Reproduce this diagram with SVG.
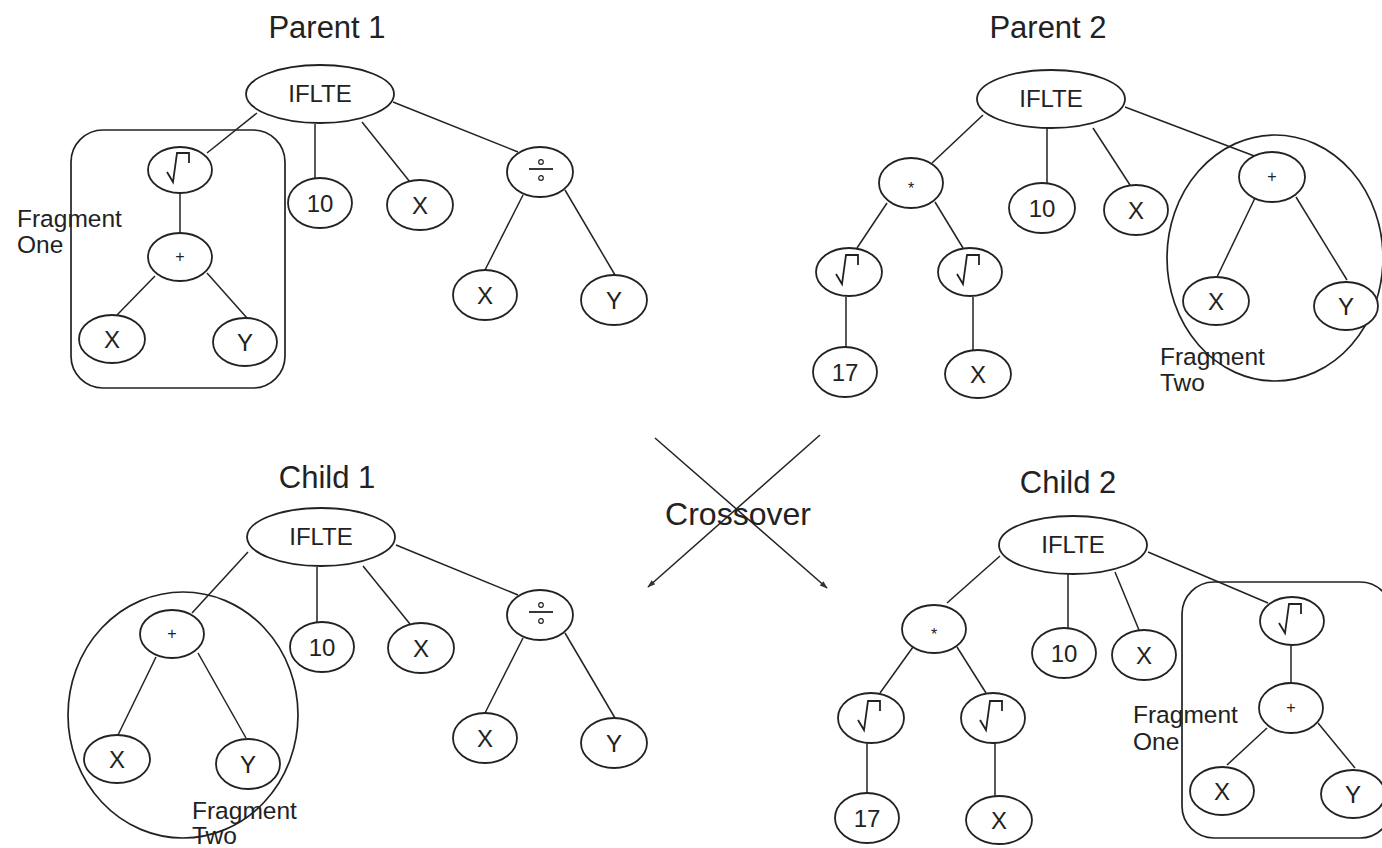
<svg xmlns="http://www.w3.org/2000/svg" xmlns:xlink="http://www.w3.org/1999/xlink" width="1382" height="848" viewBox="0 0 1382 848">
<style>
.n{fill:#fff;stroke:#222;stroke-width:1.8}
.f{fill:none;stroke:#222;stroke-width:1.7}
.e{stroke:#222;stroke-width:1.5;fill:none}
.t{font-family:"Liberation Sans",Arial,sans-serif;font-size:24px;fill:#222;text-anchor:middle}
.s{font-family:"Liberation Sans",Arial,sans-serif;font-size:16px;fill:#222;text-anchor:middle}
.h{font-family:"Liberation Sans",Arial,sans-serif;font-size:31px;fill:#222;text-anchor:middle}
.l{font-family:"Liberation Sans",Arial,sans-serif;font-size:24.5px;fill:#222}
.sym{fill:none;stroke:#222;stroke-width:1.8}
</style>
<defs>
<g id="sqrt"><polyline class="sym" points="-13,2 -7,12 -3,-17 9,-17 9,-7"/></g>
<g id="div"><line class="sym" x1="-11" y1="-3" x2="13" y2="-3"/><circle cx="1" cy="-10" r="2.3" fill="none" stroke="#222" stroke-width="1.2"/><circle cx="1" cy="6" r="2.3" fill="none" stroke="#222" stroke-width="1.2"/></g>
<marker id="arr" viewBox="0 0 10 10" refX="9" refY="5" markerWidth="8" markerHeight="8" orient="auto" markerUnits="userSpaceOnUse"><path d="M0,1.5 L10,5 L0,8.5 Z" fill="#333"/></marker>
</defs>

<!-- titles -->
<text class="h" x="327" y="38">Parent 1</text>
<text class="h" x="1048" y="38">Parent 2</text>
<text class="h" x="327" y="488">Child 1</text>
<text class="h" x="1068" y="493">Child 2</text>

<!-- fragment outlines -->
<g id="p1-fragment">
<rect class="f" x="71" y="130" width="214" height="258" rx="32"/>
<text class="l" x="17" y="227">Fragment</text><text class="l" x="17" y="253">One</text>
</g>
<g id="p2-fragment">
<ellipse class="f" cx="1275" cy="258" rx="108" ry="123"/>
<text class="l" x="1160" y="365">Fragment</text><text class="l" x="1160" y="391">Two</text>
</g>
<g id="c1-fragment">
<ellipse class="f" cx="183" cy="715" rx="115" ry="123"/>
<text class="l" x="192" y="819">Fragment</text><text class="l" x="192" y="844">Two</text>
</g>
<g id="c2-fragment">
<rect class="f" x="1182" y="582" width="210" height="256" rx="32"/>
<text class="l" x="1133" y="723">Fragment</text><text class="l" x="1133" y="750">One</text>
</g>

<!-- connectors -->
<g id="connectors">
<!-- Parent 1 -->
<line class="e" x1="257" y1="113" x2="207" y2="153"/>
<line class="e" x1="315" y1="124" x2="315" y2="178"/>
<line class="e" x1="362" y1="122" x2="410" y2="182"/>
<line class="e" x1="393" y1="102" x2="518" y2="152"/>
<line class="e" x1="180" y1="193" x2="180" y2="233"/>
<line class="e" x1="155" y1="276" x2="117" y2="315"/>
<line class="e" x1="207" y1="273" x2="247" y2="318"/>
<line class="e" x1="523" y1="195" x2="485" y2="270"/>
<line class="e" x1="565" y1="190" x2="615" y2="275"/>
<!-- Parent 2 -->
<line class="e" x1="983" y1="115" x2="932" y2="163"/>
<line class="e" x1="1047" y1="128" x2="1047" y2="183"/>
<line class="e" x1="1093" y1="128" x2="1130" y2="185"/>
<line class="e" x1="1125" y1="107" x2="1257" y2="157"/>
<line class="e" x1="887" y1="203" x2="857" y2="248"/>
<line class="e" x1="935" y1="202" x2="963" y2="248"/>
<line class="e" x1="846" y1="297" x2="846" y2="347"/>
<line class="e" x1="973" y1="297" x2="973" y2="350"/>
<line class="e" x1="1255" y1="198" x2="1217" y2="277"/>
<line class="e" x1="1296" y1="197" x2="1347" y2="280"/>
<!-- Child 1 -->
<line class="e" x1="248" y1="552" x2="192" y2="613"/>
<line class="e" x1="317" y1="567" x2="317" y2="622"/>
<line class="e" x1="363" y1="566" x2="410" y2="624"/>
<line class="e" x1="396" y1="545" x2="518" y2="595"/>
<line class="e" x1="156" y1="657" x2="118" y2="735"/>
<line class="e" x1="198" y1="653" x2="246" y2="738"/>
<line class="e" x1="523" y1="638" x2="485" y2="713"/>
<line class="e" x1="565" y1="633" x2="615" y2="718"/>
<!-- Child 2 -->
<line class="e" x1="1000" y1="556" x2="947" y2="603"/>
<line class="e" x1="1068" y1="574" x2="1068" y2="628"/>
<line class="e" x1="1115" y1="572" x2="1139" y2="630"/>
<line class="e" x1="1148" y1="552" x2="1268" y2="603"/>
<line class="e" x1="913" y1="647" x2="880" y2="693"/>
<line class="e" x1="957" y1="647" x2="986" y2="693"/>
<line class="e" x1="867" y1="743" x2="867" y2="793"/>
<line class="e" x1="995" y1="743" x2="995" y2="796"/>
<line class="e" x1="1291" y1="646" x2="1291" y2="683"/>
<line class="e" x1="1267" y1="728" x2="1227" y2="765"/>
<line class="e" x1="1318" y1="723" x2="1355" y2="768"/>
<!-- Crossover arrows -->
<line class="e" x1="655" y1="438" x2="827" y2="588" marker-end="url(#arr)"/>
<line class="e" x1="820" y1="435" x2="648" y2="587" marker-end="url(#arr)"/>
</g>
<text id="crossover" class="h" x="738" y="525" style="font-size:32px">Crossover</text>

<!-- Parent 1 nodes -->
<g id="p1-iflte"><ellipse class="n" cx="320" cy="94" rx="74" ry="29"/><text class="t" x="320" y="102">IFLTE</text></g>
<g id="p1-sqrt"><ellipse class="n" cx="180" cy="170" rx="32" ry="23"/><use xlink:href="#sqrt" transform="translate(180,170)"/></g>
<g id="p1-10"><ellipse class="n" cx="320" cy="203" rx="32" ry="25"/><text class="t" x="320" y="212">10</text></g>
<g id="p1-x"><ellipse class="n" cx="420" cy="205" rx="33" ry="25"/><text class="t" x="420" y="214">X</text></g>
<g id="p1-div"><ellipse class="n" cx="540" cy="172" rx="33" ry="25"/><use xlink:href="#div" transform="translate(540,172)"/></g>
<g id="p1-plus"><ellipse class="n" cx="180" cy="257" rx="32" ry="24"/><text class="s" x="180" y="262">+</text></g>
<g id="p1-fx"><ellipse class="n" cx="112" cy="339" rx="33" ry="24"/><text class="t" x="112" y="348">X</text></g>
<g id="p1-fy"><ellipse class="n" cx="245" cy="342" rx="32" ry="24"/><text class="t" x="245" y="351">Y</text></g>
<g id="p1-dx"><ellipse class="n" cx="485" cy="295" rx="32" ry="25"/><text class="t" x="485" y="304">X</text></g>
<g id="p1-dy"><ellipse class="n" cx="614" cy="300" rx="33" ry="25"/><text class="t" x="614" y="309">Y</text></g>

<!-- Parent 2 nodes -->
<g id="p2-iflte"><ellipse class="n" cx="1051" cy="99" rx="74" ry="29"/><text class="t" x="1051" y="107">IFLTE</text></g>
<g id="p2-mul"><ellipse class="n" cx="911" cy="183" rx="32" ry="25"/><text class="s" x="911" y="194">*</text></g>
<g id="p2-sqrt1"><ellipse class="n" cx="849" cy="272" rx="33" ry="24"/><use xlink:href="#sqrt" transform="translate(849,272)"/></g>
<g id="p2-17"><ellipse class="n" cx="845" cy="372" rx="32" ry="25"/><text class="t" x="845" y="381">17</text></g>
<g id="p2-sqrt2"><ellipse class="n" cx="970" cy="272" rx="32" ry="24"/><use xlink:href="#sqrt" transform="translate(970,272)"/></g>
<g id="p2-sx"><ellipse class="n" cx="978" cy="374" rx="33" ry="24"/><text class="t" x="978" y="383">X</text></g>
<g id="p2-10"><ellipse class="n" cx="1042" cy="208" rx="33" ry="25"/><text class="t" x="1042" y="217">10</text></g>
<g id="p2-x"><ellipse class="n" cx="1136" cy="210" rx="32" ry="25"/><text class="t" x="1136" y="219">X</text></g>
<g id="p2-plus"><ellipse class="n" cx="1272" cy="177" rx="33" ry="25"/><text class="s" x="1272" y="182">+</text></g>
<g id="p2-fx"><ellipse class="n" cx="1216" cy="301" rx="33" ry="24"/><text class="t" x="1216" y="310">X</text></g>
<g id="p2-fy"><ellipse class="n" cx="1346" cy="306" rx="32" ry="24"/><text class="t" x="1346" y="315">Y</text></g>

<!-- Child 1 nodes -->
<g id="c1-iflte"><ellipse class="n" cx="321" cy="537" rx="74" ry="29"/><text class="t" x="321" y="545">IFLTE</text></g>
<g id="c1-plus"><ellipse class="n" cx="172" cy="634" rx="32" ry="24"/><text class="s" x="172" y="639">+</text></g>
<g id="c1-fx"><ellipse class="n" cx="117" cy="759" rx="33" ry="24"/><text class="t" x="117" y="768">X</text></g>
<g id="c1-fy"><ellipse class="n" cx="248" cy="764" rx="32" ry="25"/><text class="t" x="248" y="773">Y</text></g>
<g id="c1-10"><ellipse class="n" cx="322" cy="647" rx="32" ry="25"/><text class="t" x="322" y="656">10</text></g>
<g id="c1-x"><ellipse class="n" cx="421" cy="648" rx="33" ry="25"/><text class="t" x="421" y="657">X</text></g>
<g id="c1-div"><ellipse class="n" cx="540" cy="615" rx="33" ry="25"/><use xlink:href="#div" transform="translate(540,615)"/></g>
<g id="c1-dx"><ellipse class="n" cx="485" cy="738" rx="32" ry="25"/><text class="t" x="485" y="747">X</text></g>
<g id="c1-dy"><ellipse class="n" cx="614" cy="743" rx="33" ry="25"/><text class="t" x="614" y="752">Y</text></g>

<!-- Child 2 nodes -->
<g id="c2-iflte"><ellipse class="n" cx="1073" cy="545" rx="74" ry="29"/><text class="t" x="1073" y="553">IFLTE</text></g>
<g id="c2-mul"><ellipse class="n" cx="934" cy="629" rx="32" ry="24"/><text class="s" x="934" y="640">*</text></g>
<g id="c2-sqrt1"><ellipse class="n" cx="871" cy="718" rx="33" ry="25"/><use xlink:href="#sqrt" transform="translate(871,718)"/></g>
<g id="c2-17"><ellipse class="n" cx="867" cy="818" rx="32" ry="25"/><text class="t" x="867" y="827">17</text></g>
<g id="c2-sqrt2"><ellipse class="n" cx="993" cy="718" rx="32" ry="25"/><use xlink:href="#sqrt" transform="translate(993,718)"/></g>
<g id="c2-sx"><ellipse class="n" cx="999" cy="820" rx="33" ry="24"/><text class="t" x="999" y="829">X</text></g>
<g id="c2-10"><ellipse class="n" cx="1064" cy="653" rx="32" ry="25"/><text class="t" x="1064" y="662">10</text></g>
<g id="c2-x"><ellipse class="n" cx="1144" cy="655" rx="32" ry="25"/><text class="t" x="1144" y="664">X</text></g>
<g id="c2-sqrt"><ellipse class="n" cx="1292" cy="621" rx="32" ry="24"/><use xlink:href="#sqrt" transform="translate(1292,621)"/></g>
<g id="c2-plus"><ellipse class="n" cx="1291" cy="708" rx="32" ry="25"/><text class="s" x="1291" y="713">+</text></g>
<g id="c2-fx"><ellipse class="n" cx="1222" cy="791" rx="32" ry="24"/><text class="t" x="1222" y="800">X</text></g>
<g id="c2-fy"><ellipse class="n" cx="1353" cy="794" rx="32" ry="24"/><text class="t" x="1353" y="803">Y</text></g>
</svg>
